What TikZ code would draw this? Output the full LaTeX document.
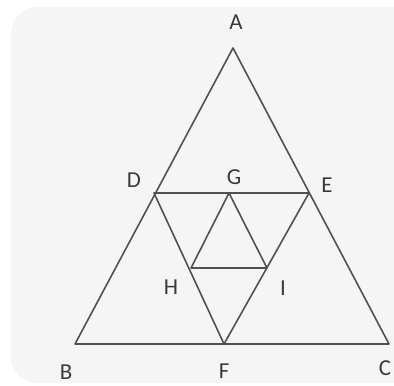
\documentclass[tikz,border=0pt]{standalone}
\usepackage{fontspec}
\setmainfont{Carlito}
\definecolor{bgc}{HTML}{F5F5F5}
\definecolor{linec}{HTML}{505050}
\definecolor{labc}{HTML}{3A3A3A}
\tikzset{
  pt/.style={font=\fontsize{13}{15}\selectfont,text=labc,inner sep=0pt},
  edge/.style={draw=linec,line width=0.9pt,line join=round}
}

\begin{document}
\begin{tikzpicture}[x=0.02cm,y=-0.02cm]
  \useasboundingbox (0,0) rectangle (394,385);
  \fill[bgc,rounded corners=15] (11,7) rectangle (420,383);
  % vertices of the big triangle and its midpoints
  \coordinate (A) at (233,48);
  \coordinate (B) at (75,344);
  \coordinate (C) at (389,344);
  \coordinate (D) at (154,193);
  \coordinate (E) at (309,193);
  \coordinate (F) at (224,344);
  \coordinate (G) at (229,193);
  \coordinate (H) at (191,268);
  \coordinate (I) at (267,268);
  \draw[edge] (A) -- (B) -- (C) -- cycle;
  \draw[edge] (D) -- (E) -- (F) -- cycle;
  \draw[edge] (G) -- (H) -- (I) -- cycle;
  % labels
  \node[pt] (lA) at (236,22) {A};
  \node[pt] (lB) at (66,372) {B};
  \node[pt] (lC) at (385,368) {C};
  \node[pt] (lD) at (134,180) {D};
  \node[pt] (lE) at (327,185) {E};
  \node[pt] (lF) at (224,371) {F};
  \node[pt] (lG) at (234,177) {G};
  \node[pt] (lH) at (171,287) {H};
  \node[pt] (lI) at (283,288) {I};
\end{tikzpicture}
\end{document}
